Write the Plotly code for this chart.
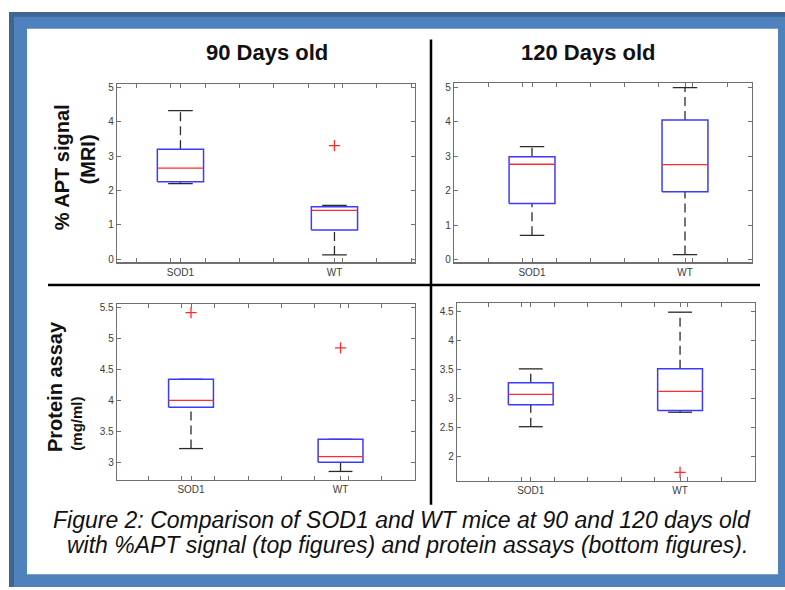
import plotly.graph_objects as go

# ---------------- data ----------------
categories = ["SOD1", "WT"]

apt90_q1 = [2.25, 0.85]
apt90_med = [2.65, 1.42]
apt90_q3 = [3.20, 1.53]
apt90_lo = [2.20, 0.13]
apt90_hi = [4.32, 1.57]
apt90_out = [[], [3.30]]

apt120_q1 = [1.63, 1.97]
apt120_med = [2.77, 2.76]
apt120_q3 = [2.99, 4.06]
apt120_lo = [0.70, 0.14]
apt120_hi = [3.28, 5.00]
apt120_out = [[], []]

prot90_q1 = [3.89, 3.00]
prot90_med = [4.00, 3.09]
prot90_q3 = [4.34, 3.37]
prot90_lo = [3.22, 2.85]
prot90_hi = [4.34, 3.37]
prot90_out = [[5.42], [4.85]]

prot120_q1 = [2.89, 2.79]
prot120_med = [3.07, 3.12]
prot120_q3 = [3.27, 3.51]
prot120_lo = [2.51, 2.76]
prot120_hi = [3.51, 4.49]
prot120_out = [[], [1.72]]

apt_ticks = [0, 1, 2, 3, 4, 5]
apt_ticklabels = ["0", "1", "2", "3", "4", "5"]
prot90_ticks = [3, 3.5, 4, 4.5, 5, 5.5]
prot90_ticklabels = ["3", "3.5", "4", "4.5", "5", "5.5"]
prot120_ticks = [2, 2.5, 3, 3.5, 4, 4.5]
prot120_ticklabels = ["2", "2.5", "3", "3.5", "4", "4.5"]

col_titles = ["90 Days old", "120 Days old"]
caption_1 = "Figure 2: Comparison of SOD1 and WT mice at 90 and 120 days old"
caption_2 = "with %APT signal (top figures) and protein assays (bottom figures)."

# ---------------- layout helpers ----------------
W, H = 785, 590
def px(x):
    return x / W
def py(y):
    return 1 - y / H

BOX_HW = 0.15
CAP_HW = 0.08
BOX_COLOR = "#3b3bff"
MED_COLOR = "#ff2b2b"
WHISK_COLOR = "#2a2a2a"
FRAME_COLOR = "#707070"
BORDER_DARK = "#3f6592"
BORDER_LIGHT = "#4f81bd"
TICKFONT = dict(family="Liberation Sans, Arial", size=10, color="#3c3c3c")

fig = go.Figure()

def add_panel(n, q1, med, q3, lo, hi, out):
    xa = "x" if n == 1 else f"x{n}"
    ya = "y" if n == 1 else f"y{n}"
    pos = [i + 1 for i in range(len(categories))]
    wx, wy, cx, cy, bx, by, mx, my, ox, oy = [], [], [], [], [], [], [], [], [], []
    for i, p in enumerate(pos):
        wx += [p, p, None, p, p, None]
        wy += [q3[i], hi[i], None, lo[i], q1[i], None]
        cx += [p - CAP_HW, p + CAP_HW, None, p - CAP_HW, p + CAP_HW, None]
        cy += [hi[i], hi[i], None, lo[i], lo[i], None]
        bx += [p - BOX_HW, p + BOX_HW, p + BOX_HW, p - BOX_HW, p - BOX_HW, None]
        by += [q1[i], q1[i], q3[i], q3[i], q1[i], None]
        mx += [p - BOX_HW, p + BOX_HW, None]
        my += [med[i], med[i], None]
        for v in out[i]:
            ox.append(p)
            oy.append(v)
    common = dict(xaxis=xa, yaxis=ya, showlegend=False, hoverinfo="skip")
    fig.add_trace(go.Scatter(x=wx, y=wy, mode="lines",
                             line=dict(color=WHISK_COLOR, width=1.3, dash="9px,5px"), **common))
    fig.add_trace(go.Scatter(x=cx, y=cy, mode="lines",
                             line=dict(color=WHISK_COLOR, width=1.3), **common))
    fig.add_trace(go.Scatter(x=bx, y=by, mode="lines",
                             line=dict(color=BOX_COLOR, width=1.5), **common))
    fig.add_trace(go.Scatter(x=mx, y=my, mode="lines",
                             line=dict(color=MED_COLOR, width=1.3), **common))
    if ox:
        fig.add_trace(go.Scatter(x=ox, y=oy, mode="markers",
                                 marker=dict(symbol="cross-thin", size=8,
                                             line=dict(color=MED_COLOR, width=1.3)),
                                 **common))

add_panel(1, apt90_q1, apt90_med, apt90_q3, apt90_lo, apt90_hi, apt90_out)
add_panel(2, apt120_q1, apt120_med, apt120_q3, apt120_lo, apt120_hi, apt120_out)
add_panel(3, prot90_q1, prot90_med, prot90_q3, prot90_lo, prot90_hi, prot90_out)
add_panel(4, prot120_q1, prot120_med, prot120_q3, prot120_lo, prot120_hi, prot120_out)

def xaxis(domain, rng, anchor):
    return dict(domain=domain, range=rng, anchor=anchor,
                tickmode="array", tickvals=[1, 2], ticktext=categories,
                ticks="inside", ticklen=4, tickcolor=FRAME_COLOR,
                showline=True, linecolor=FRAME_COLOR, linewidth=1.3, mirror="ticks",
                showgrid=False, zeroline=False, tickfont=TICKFONT, fixedrange=True,
                minor=dict(tickmode="linear", tick0=0.937, dtick=0.223, ticks="inside",
                           ticklen=4, tickcolor=FRAME_COLOR, showgrid=False))

def yaxis(domain, rng, anchor, tv, tt):
    return dict(domain=domain, range=rng, anchor=anchor,
                tickmode="array", tickvals=tv, ticktext=tt,
                ticks="inside", ticklen=4, tickcolor=FRAME_COLOR,
                showline=True, linecolor=FRAME_COLOR, linewidth=1.3, mirror="ticks",
                showgrid=False, zeroline=False, tickfont=TICKFONT, fixedrange=True)

shapes = [
    dict(type="rect", xref="paper", yref="paper", x0=px(9), x1=1, y0=0, y1=py(9),
         fillcolor=BORDER_DARK, line=dict(width=0), layer="below"),
    dict(type="rect", xref="paper", yref="paper", x0=px(14), x1=1, y0=0, y1=py(14),
         fillcolor=BORDER_LIGHT, line=dict(width=0), layer="below"),
    dict(type="rect", xref="paper", yref="paper", x0=px(27), x1=px(778), y0=py(577), y1=py(26),
         fillcolor="white", line=dict(width=0), layer="below"),
    dict(type="line", xref="paper", yref="paper", x0=px(48), x1=px(760), y0=py(285), y1=py(285),
         line=dict(color="black", width=2.5)),
    dict(type="line", xref="paper", yref="paper", x0=px(431), x1=px(431), y0=py(37), y1=py(507),
         line=dict(color="black", width=2.5)),
]

bold = "Liberation Sans, Arial"
annotations = [
    dict(text="<b>%s</b>" % col_titles[0], x=px(267), y=py(50), xref="paper", yref="paper",
         showarrow=False, xanchor="center", yanchor="middle",
         font=dict(family=bold, size=22, color="#111111")),
    dict(text="<b>%s</b>" % col_titles[1], x=px(588), y=py(50), xref="paper", yref="paper",
         showarrow=False, xanchor="center", yanchor="middle",
         font=dict(family=bold, size=22, color="#111111")),
    dict(text="<b>% APT signal</b>", x=px(62), y=py(166), xref="paper", yref="paper",
         showarrow=False, textangle=-90, xanchor="center", yanchor="middle",
         font=dict(family=bold, size=20, color="#111111")),
    dict(text="<b>(MRI)</b>", x=px(88), y=py(158), xref="paper", yref="paper",
         showarrow=False, textangle=-90, xanchor="center", yanchor="middle",
         font=dict(family=bold, size=20, color="#111111")),
    dict(text="<b>Protein assay</b>", x=px(55), y=py(388), xref="paper", yref="paper",
         showarrow=False, textangle=-90, xanchor="center", yanchor="middle",
         font=dict(family=bold, size=20, color="#111111")),
    dict(text="<b>(mg/ml)</b>", x=px(77), y=py(425), xref="paper", yref="paper",
         showarrow=False, textangle=-90, xanchor="center", yanchor="middle",
         font=dict(family=bold, size=15, color="#111111")),
    dict(text="<i>%s</i>" % caption_1, x=px(402), y=py(522), xref="paper", yref="paper",
         showarrow=False, xanchor="center", yanchor="middle",
         font=dict(family="Liberation Sans, Arial", size=23, color="#111111")),
    dict(text="<i>%s</i>" % caption_2, x=px(407), y=py(548), xref="paper", yref="paper",
         showarrow=False, xanchor="center", yanchor="middle",
         font=dict(family="Liberation Sans, Arial", size=23, color="#111111")),
]

fig.update_layout(
    width=W, height=H, autosize=False,
    margin=dict(l=0, r=0, t=0, b=0),
    paper_bgcolor="white", plot_bgcolor="white",
    hovermode=False,
    xaxis=xaxis([px(117), px(415)], [0.588, 2.523], "y"),
    yaxis=yaxis([py(262), py(82)], [-0.086, 5.086], "x", apt_ticks, apt_ticklabels),
    xaxis2=xaxis([px(454), px(752)], [0.49, 2.438], "y2"),
    yaxis2=yaxis([py(262), py(81)], [-0.087, 5.13], "x2", apt_ticks, apt_ticklabels),
    xaxis3=xaxis([px(117), px(415)], [0.505, 2.498], "y3"),
    yaxis3=yaxis([py(482), py(304)], [2.71, 5.56], "x3", prot90_ticks, prot90_ticklabels),
    xaxis4=xaxis([px(457), px(755)], [0.506, 2.502], "y4"),
    yaxis4=yaxis([py(483), py(303)], [1.57, 4.65], "x4", prot120_ticks, prot120_ticklabels),
    shapes=shapes,
    annotations=annotations,
)

fig.write_html("out.html",
               config={"displayModeBar": False, "staticPlot": True},
               post_script=("document.body.style.margin='0';"
                            "document.body.style.overflow='hidden';"
                            "document.body.style.background='%s';"
                            "document.documentElement.style.background='%s';")
               % (BORDER_LIGHT, BORDER_LIGHT))
